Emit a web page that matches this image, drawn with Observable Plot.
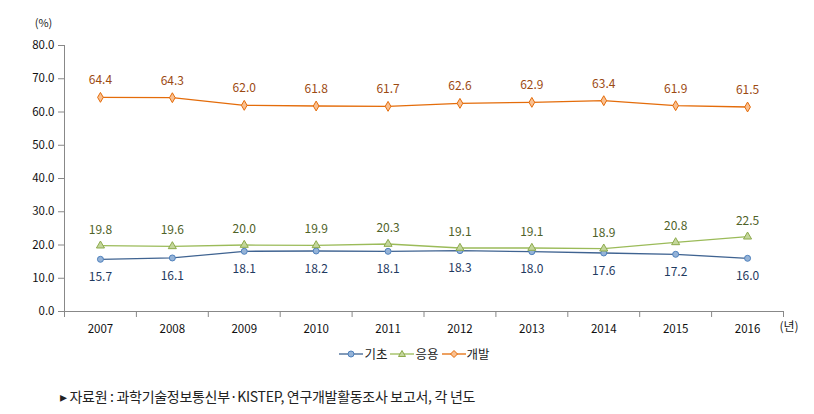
<!DOCTYPE html>
<html><head><meta charset="utf-8">
<script src="https://cdn.jsdelivr.net/npm/d3@7"></script>
<script src="https://cdn.jsdelivr.net/npm/@observablehq/plot@0.6"></script>
<style>
body{margin:0;background:#fff;font-family:"Noto Sans CJK KR","Noto Sans",sans-serif;}
#wrap{position:relative;width:814px;height:414px;}
#chart{position:absolute;left:0;top:0;}
#legend{position:absolute;left:0;width:814px;top:344px;text-align:center;font-size:12.5px;color:#222;padding-left:16px;box-sizing:border-box}
#legend span{display:inline-flex;align-items:center;margin:0 1px}
#caption{position:absolute;left:60px;top:386px;font-size:14px;color:#222;letter-spacing:-0.3px}
</style></head><body>
<div id="wrap"><div id="chart"></div><div id="legend"></div><div id="caption">▸ 자료원 : 과학기술정보통신부·KISTEP, 연구개발활동조사 보고서, 각 년도</div></div>
<script>
const years = [2007,2008,2009,2010,2011,2012,2013,2014,2015,2016];
const basic = [15.7,16.1,18.1,18.2,18.1,18.3,18.0,17.6,17.2,16.0];
const applied = [19.8,19.6,20.0,19.9,20.3,19.1,19.1,18.9,20.8,22.5];
const dev = [64.4,64.3,62.0,61.8,61.7,62.6,62.9,63.4,61.9,61.5];
const seriesNames = ["기초","응용","개발"];
const yTicks = [0,10,20,30,40,50,60,70,80];

const styles = {
  "기초": {line:"#3F6391", fill:"#95B3D7", stroke:"#4F81BD", text:"#1F3A5F", symbol:"circle", dy:18},
  "응용": {line:"#9BBB59", fill:"#C3D69B", stroke:"#8DAA4C", text:"#4F6228", symbol:"triangle", dy:-16},
  "개발": {line:"#E46C0A", fill:"#FAC090", stroke:"#E46C0A", text:"#9C4A12", symbol:"diamond", dy:-17}
};
const vals = {"기초":basic,"응용":applied,"개발":dev};
const data = seriesNames.flatMap(s => years.map((y,i)=>({series:s, year:y, value:vals[s][i]})));
const bounds = years.map(y=>y-0.5).concat([years[years.length-1]+0.5]);

const marks = [
  Plot.ruleY([0], {stroke:"#888"}),
  Plot.ruleX([bounds[0]], {y1:()=>0, y2:()=>80, stroke:"#888"}),
  Plot.ruleX(bounds, {x:d=>d, y1:()=>0, y2:()=>-1.8, stroke:"#888"}),
  Plot.axisY({ticks:yTicks, tickFormat:d=>d.toFixed(1), tickSize:6, stroke:"#888", tickPadding:4, fontSize:11.5, color:"#111", label:null}),
  Plot.axisX({ticks:years, tickFormat:d=>String(d), tickSize:0, tickPadding:13, fontSize:11.5, label:null, color:"#111"}),
];
for (const s of seriesNames) {
  const st = styles[s];
  const d = data.filter(r=>r.series===s);
  marks.push(Plot.line(d, {x:"year", y:"value", stroke:st.line, strokeWidth:1.3}));
  marks.push(Plot.dot(d, {x:"year", y:"value", symbol:()=>st.symbol, r:3, fill:st.fill, stroke:st.stroke, strokeWidth:1}));
  marks.push(Plot.text(d, {x:"year", y:"value", text:r=>r.value.toFixed(1), dy:st.dy, fill:st.text, fontSize:12}));
}
marks.push(Plot.text(["(년)"], {x:()=>bounds[bounds.length-1], y:()=>0, text:d=>d, dx:-4, dy:16, fontSize:12, fill:"#222", textAnchor:"start"}));
marks.push(Plot.text(["(%)"], {x:()=>bounds[0], y:()=>80, text:d=>d, dx:-21, dy:-22, fontSize:11, fill:"#222"}));

const chart = Plot.plot({
  width:814, height:340,
  marginLeft:64, marginRight:31, marginTop:45, marginBottom:29,
  x:{type:"linear", domain:[bounds[0], bounds[bounds.length-1]]},
  y:{type:"linear", domain:[0,80]},
  symbol:{type:"identity"},
  style:{fontFamily:"'Noto Sans CJK KR', sans-serif", overflow:"visible", background:"transparent"},
  marks
});
document.getElementById("chart").appendChild(chart);

const lg = document.getElementById("legend");
const symPaths = {
  circle: '<circle cx="12" cy="7" r="3"/>',
  triangle: '<path d="M12,3.5 L15.5,9.5 L8.5,9.5 Z"/>',
  diamond: '<path d="M12,3.5 L15.5,7 L12,10.5 L8.5,7 Z"/>'
};
for (const s of seriesNames) {
  const st = styles[s];
  const el = document.createElement("span");
  el.innerHTML = `<svg width="24" height="14"><line x1="0" y1="7" x2="24" y2="7" stroke="${st.line}" stroke-width="1.3"/><g fill="${st.fill}" stroke="${st.stroke}">${symPaths[st.symbol]}</g></svg><span>${s}</span>`;
  lg.appendChild(el);
}
</script>
</body></html>
